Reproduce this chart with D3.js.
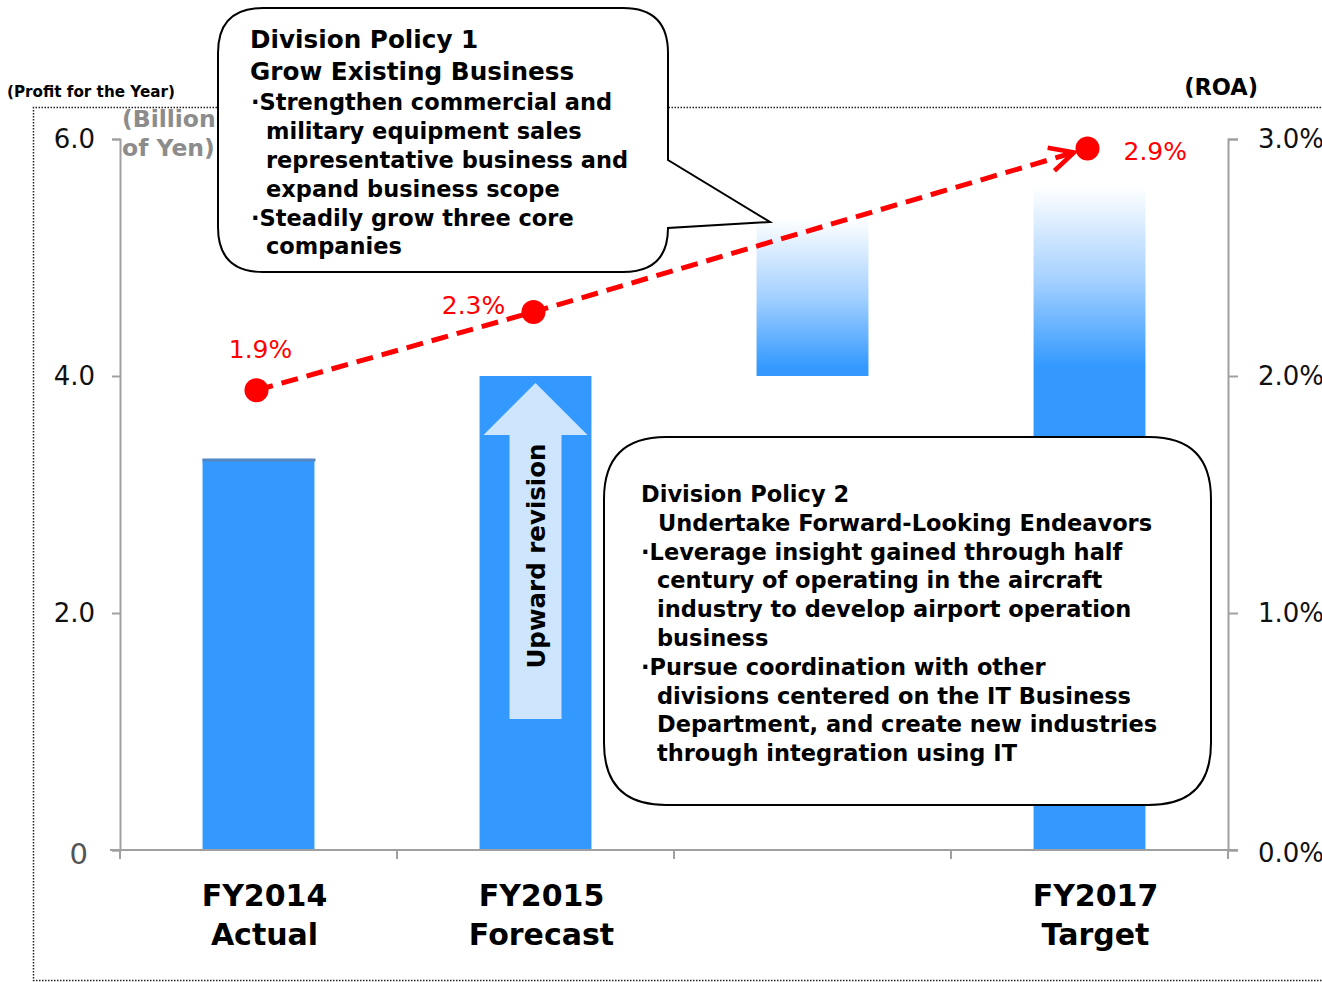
<!DOCTYPE html>
<html>
<head>
<meta charset="utf-8">
<script src="https://cdn.jsdelivr.net/npm/d3@7"></script>
<style>
  body { margin: 0; background: #fff; }
  svg { display: block; }
  text { font-family: "DejaVu Sans", Verdana, sans-serif; }
</style>
</head>
<body>
<svg id="chart" width="1322" height="982"></svg>
<script>
'use strict';

// data
var categories = ["FY2014", "FY2015", "FY2016", "FY2017"];
var catLine1 = ["FY2014", "FY2015", "", "FY2017"];
var catLine2 = ["Actual", "Forecast", "", "Target"];

var profitSolid = [3.3, 4.0, 0, 4.0];       // billions of yen, solid part
var profitFadeFrom = [0, 0, 4.0, 4.0];      // gradient part (upside)
var profitFadeTo = [0, 0, 5.33, 5.6];

var roaCats = ["FY2014", "FY2015", "FY2017"];
var roaValues = [1.94, 2.27, 2.96];          // % (dot positions)
var roaLabels = ["1.9%", "2.3%", "2.9%"];

var leftTicks = [0, 2, 4, 6];
var rightTicks = [0, 1, 2, 3];

var svg = d3.select("#chart");
var blue = "#3399ff", gray = "#a0a0a0", red = "#ff0000";

var x = d3.scaleBand().domain(categories).range([120, 1228])
  .paddingInner(0.596).paddingOuter(0.298);
var y = d3.scaleLinear().domain([0, 6]).range([850, 139]);
var yRoa = d3.scaleLinear().domain([0, 3]).range([850, 139]);

var defs = svg.append("defs");
var grad = defs.append("linearGradient").attr("id", "fade")
  .attr("x1", 0).attr("y1", 0).attr("x2", 0).attr("y2", 1);
grad.append("stop").attr("offset", 0).attr("stop-color", "#ffffff");
grad.append("stop").attr("offset", 0.5).attr("stop-color", "#a3d0ff");
grad.append("stop").attr("offset", 0.95).attr("stop-color", blue);

defs.append("marker").attr("id", "arr")
  .attr("markerUnits", "userSpaceOnUse")
  .attr("viewBox", "-30 -15 34 30")
  .attr("markerWidth", 34).attr("markerHeight", 30)
  .attr("refX", 0).attr("refY", 0)
  .attr("orient", "auto")
  .append("path")
  .attr("d", "M-24,-12 L0,0 L-24,12")
  .attr("fill", "none").attr("stroke", red).attr("stroke-width", 4.5);

// dotted outer frame
svg.append("path")
  .attr("d", "M1330,107.5 H33.5 V980.5 H1330")
  .attr("fill", "none").attr("stroke", "#222")
  .attr("stroke-width", 1.5).attr("stroke-dasharray", "1.5,1.5");

// unit labels
svg.append("text").attr("x", 7).attr("y", 97)
  .attr("font-size", 15.2).attr("font-weight", "bold").text("(Profit for the Year)");
svg.append("text").attr("x", 122).attr("y", 127).attr("fill", "#8c8c8c")
  .attr("font-size", 23.5).attr("font-weight", "bold").text("(Billions");
svg.append("text").attr("x", 122).attr("y", 156).attr("fill", "#8c8c8c")
  .attr("font-size", 23.5).attr("font-weight", "bold").text("of Yen)");
svg.append("text").attr("x", 1258).attr("y", 95).attr("text-anchor", "end")
  .attr("font-size", 22.5).attr("font-weight", "bold").text("(ROA)");

// bars
svg.selectAll(".bar").data(categories).enter().append("rect")
  .attr("class", "bar")
  .attr("x", function(d) { return x(d); })
  .attr("width", x.bandwidth())
  .attr("y", function(d, i) { return y(profitSolid[i]); })
  .attr("height", function(d, i) { return y(0) - y(profitSolid[i]); })
  .attr("fill", blue);

svg.selectAll(".fade").data(categories).enter().append("rect")
  .attr("class", "fade")
  .attr("x", function(d) { return x(d); })
  .attr("width", x.bandwidth())
  .attr("y", function(d, i) { return y(profitFadeTo[i]); })
  .attr("height", function(d, i) { return y(profitFadeFrom[i]) - y(profitFadeTo[i]); })
  .attr("fill", "url(#fade)");

// top edge of the actual bar
svg.append("line")
  .attr("x1", x("FY2014")).attr("x2", x("FY2014") + x.bandwidth() + 1)
  .attr("y1", y(profitSolid[0]) + 1).attr("y2", y(profitSolid[0]) + 1)
  .attr("stroke", "#5585c2").attr("stroke-width", 3);

// upward arrow inside FY2015 bar
var ax = x("FY2015") + x.bandwidth() / 2;
svg.append("path")
  .attr("d", "M" + ax + "," + 383 + " L" + (ax + 52) + ",435 L" + (ax + 26) + ",435 L" + (ax + 26) + ",719 L" +
    (ax - 26) + ",719 L" + (ax - 26) + ",435 L" + (ax - 52) + ",435 Z")
  .attr("fill", "#cde5fd");
svg.append("text")
  .attr("transform", "translate(" + (ax + 9) + ",556) rotate(-90)")
  .attr("text-anchor", "middle").attr("font-size", 24.5).attr("font-weight", "bold")
  .text("Upward revision");

// axes
var gL = svg.append("g").attr("transform", "translate(120,0)")
  .call(d3.axisLeft(y).tickValues(leftTicks).tickSize(8).tickPadding(17)
    .tickFormat(function(d) { return d === 0 ? "0" : d.toFixed(1); }));
var gR = svg.append("g").attr("transform", "translate(1228,0)")
  .call(d3.axisRight(yRoa).tickValues(rightTicks).tickSize(10).tickPadding(20)
    .tickFormat(function(d) { return d.toFixed(1) + "%"; }));
[gL, gR].forEach(function(g) {
  g.select(".domain").attr("stroke", gray).attr("stroke-width", 2);
  g.selectAll(".tick line").attr("stroke", gray).attr("stroke-width", 2);
  g.selectAll(".tick text").attr("font-size", 26).attr("fill", "#111")
    .attr("font-family", "DejaVu Sans, sans-serif");
});
gL.selectAll(".tick text").filter(function(d) { return d === 0; })
  .attr("fill", "#555").attr("font-size", 29).attr("dx", -7).attr("dy", "0.45em");
gR.selectAll(".tick text").filter(function(d) { return d === 0; }).attr("dy", "0.45em");

// category baseline + boundary ticks
svg.append("line").attr("x1", 110).attr("x2", 1238)
  .attr("y1", y(0)).attr("y2", y(0)).attr("stroke", gray).attr("stroke-width", 2);
d3.range(categories.length + 1).forEach(function(i) {
  var bx = 120 + i * x.step();
  svg.append("line").attr("x1", bx).attr("x2", bx)
    .attr("y1", y(0)).attr("y2", y(0) + 9).attr("stroke", gray).attr("stroke-width", 2);
});
var cl = svg.selectAll(".cat").data(categories).enter().append("text")
  .attr("class", "cat").attr("text-anchor", "middle")
  .attr("font-size", 30).attr("font-weight", "bold")
  .attr("x", function(d) { return x(d) + x.bandwidth() / 2 + 6; })
  .attr("y", 906);
cl.append("tspan").text(function(d, i) { return catLine1[i]; });
cl.append("tspan").attr("x", function(d) { return x(d) + x.bandwidth() / 2 + 6; })
  .attr("dy", 39).text(function(d, i) { return catLine2[i]; });

// ROA line
var pts = roaCats.map(function(c, i) {
  return [x(c) + x.bandwidth() / 2 - 2, yRoa(roaValues[i])];
});
var last = pts[pts.length - 1], prev = pts[pts.length - 2];
var len = Math.hypot(last[0] - prev[0], last[1] - prev[1]);
var endPt = [last[0] - (last[0] - prev[0]) * 14 / len, last[1] - (last[1] - prev[1]) * 14 / len];
svg.append("path")
  .attr("d", d3.line()(pts.slice(0, -1).concat([endPt])))
  .attr("fill", "none").attr("stroke", red).attr("stroke-width", 5)
  .attr("stroke-dasharray", "17,9")
  .attr("marker-end", "url(#arr)");
svg.selectAll(".dot").data(pts).enter().append("circle")
  .attr("cx", function(d) { return d[0]; }).attr("cy", function(d) { return d[1]; })
  .attr("r", 12).attr("fill", red);
var labOff = [[4, -32, "middle"], [-60, 2, "middle"], [36, 12, "start"]];
svg.selectAll(".roalab").data(pts).enter().append("text")
  .attr("x", function(d, i) { return d[0] + labOff[i][0]; })
  .attr("y", function(d, i) { return d[1] + labOff[i][1]; })
  .attr("text-anchor", function(d, i) { return labOff[i][2]; })
  .attr("font-size", 25).attr("fill", red)
  .text(function(d, i) { return roaLabels[i]; });

// callout 1
svg.append("path")
  .attr("d", "M263,8 H623 Q668,8 668,53 V160 L770,222 L668,228 Q668,272 623,272 H263 Q218,272 218,227 V53 Q218,8 263,8 Z")
  .attr("fill", "#fff").attr("stroke", "#000").attr("stroke-width", 2);
var c1 = [
  [250, 48, "Division Policy 1", 24.7],
  [250, 80, "Grow Existing Business", 24.7],
  [251, 110, "·Strengthen commercial and", 22.5],
  [266, 139, "military equipment sales", 22.5],
  [266, 168, "representative business and", 22.5],
  [266, 197, "expand business scope", 22.5],
  [251, 226, "·Steadily grow three core", 22.5],
  [266, 254, "companies", 22.5]
];
svg.selectAll(".c1").data(c1).enter().append("text")
  .attr("x", function(d) { return d[0]; }).attr("y", function(d) { return d[1]; })
  .attr("font-size", function(d) { return d[3]; })
  .attr("font-weight", "bold").text(function(d) { return d[2]; });

// callout 2
svg.append("path")
  .attr("d", "M666,437 H1149 Q1211,437 1211,499 V743 Q1211,805 1149,805 H666 Q604,805 604,743 V499 Q604,437 666,437 Z")
  .attr("fill", "#fff").attr("stroke", "#000").attr("stroke-width", 2);
var c2 = [
  [641, 502, "Division Policy 2"],
  [658, 531, "Undertake Forward-Looking Endeavors"],
  [641, 560, "·Leverage insight gained through half"],
  [657, 588, "century of operating in the aircraft"],
  [657, 617, "industry to develop airport operation"],
  [657, 646, "business"],
  [641, 675, "·Pursue coordination with other"],
  [657, 704, "divisions centered on the IT Business"],
  [657, 732, "Department, and create new industries"],
  [657, 761, "through integration using IT"]
];
svg.selectAll(".c2").data(c2).enter().append("text")
  .attr("x", function(d) { return d[0]; }).attr("y", function(d) { return d[1]; })
  .attr("font-size", 22.5).attr("font-weight", "bold").text(function(d) { return d[2]; });
</script>
</body>
</html>
